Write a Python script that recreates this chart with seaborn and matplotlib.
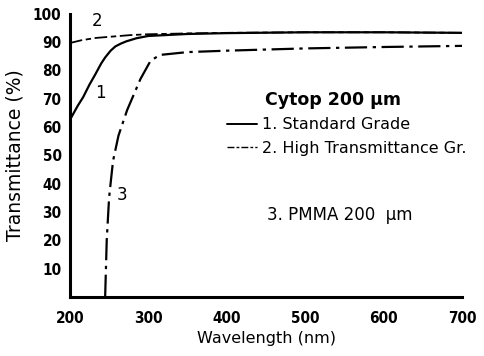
import pandas as pd
import matplotlib
matplotlib.use("Agg")
import matplotlib.pyplot as plt
from matplotlib.lines import Line2D
import seaborn as sns

# transmittance curves
wl_std = [200, 210, 217, 225, 232, 240, 245, 252, 258, 265, 272, 285, 300, 350, 400, 500, 600, 700]
t_std = [62.5, 67.5, 70.6, 75, 78.4, 82.5, 84.6, 87, 88.5, 89.5, 90.3, 91.4, 92.2, 92.9, 93.2, 93.5, 93.5, 93.3]

wl_high = [200, 215, 233, 255, 277, 300, 350, 400, 500, 600, 700]
t_high = [89.7, 90.7, 91.5, 92, 92.5, 92.8, 93.1, 93.3, 93.5, 93.5, 93.3]

wl_pmma = [245, 247, 250, 255, 262, 273, 290, 303, 315, 350, 400, 500, 600, 700]
t_pmma = [0, 20, 35, 48, 57, 66, 77, 83.5, 85.5, 86.5, 87, 87.8, 88.3, 88.7]

x_ticks = [200, 300, 400, 500, 600, 700]
y_ticks = [10, 20, 30, 40, 50, 60, 70, 80, 90, 100]

sns.set_style("white")
plt.rcParams['font.family'] = ['DejaVu Sans']
for k in ['text.color', 'axes.labelcolor', 'xtick.color', 'ytick.color']:
    plt.rcParams[k] = 'black'

fig = plt.figure(figsize=(4.85, 3.56), dpi=100)
ax = fig.add_axes([0.144, 0.166, 0.809, 0.795])

d1 = pd.DataFrame({'wl': wl_std, 't': t_std})
d2 = pd.DataFrame({'wl': wl_high, 't': t_high})
d3 = pd.DataFrame({'wl': wl_pmma, 't': t_pmma})

sns.lineplot(data=d2, x='wl', y='t', ax=ax, color='black', lw=1.3)
ax.lines[-1].set_dashes((7, 2, 3, 2))
sns.lineplot(data=d1, x='wl', y='t', ax=ax, color='black', lw=1.6)
sns.lineplot(data=d3, x='wl', y='t', ax=ax, color='black', lw=1.6)
ax.lines[-1].set_dashes((10, 2.5, 1.5, 2.5))

ax.set_xlim(200, 700)
ax.set_ylim(0, 100)
ax.set_xticks(x_ticks)
ax.set_yticks(y_ticks)
tick_font = dict(family='DejaVu Sans', stretch='condensed', weight='bold', size=11)
ax.set_xticklabels([str(v) for v in x_ticks], **tick_font)
ax.set_yticklabels([str(v) for v in y_ticks], **tick_font)
ax.tick_params(direction='in', length=5, width=2)
ax.tick_params(axis='x', pad=10)
ax.tick_params(axis='y', pad=6)

sns.despine(ax=ax)
for s in ['left', 'bottom']:
    ax.spines[s].set_linewidth(2.2)
    ax.spines[s].set_color('black')

ax.set_xlabel('Wavelength (nm)', fontsize=11.5, labelpad=4)
ax.set_ylabel('Transmittance (%)', fontsize=13.5, labelpad=6)

# curve numbers
ax.text(0.055, 0.975, '2', transform=ax.transAxes, fontsize=12, ha='left', va='center')
ax.text(0.065, 0.72, '1', transform=ax.transAxes, fontsize=12, ha='left', va='center')
ax.text(0.12, 0.36, '3', transform=ax.transAxes, fontsize=12, ha='left', va='center')

# legend block
ax.text(0.497, 0.696, 'Cytop 200 \u03bcm', transform=ax.transAxes, fontsize=12.5,
        fontweight='bold', ha='left', va='center')
handles = [Line2D([], [], color='black', lw=1.4),
           Line2D([], [], color='black', lw=1.0, dashes=(5, 1.5, 2, 1.5))]
labels = ['1. Standard Grade', '2. High Transmittance Gr.']
ax.legend(handles, labels, loc='upper left', bbox_to_anchor=(0.40, 0.635), frameon=False,
          fontsize=11.5, handlelength=1.9, handletextpad=0.3, labelspacing=0.55,
          borderaxespad=0, borderpad=0)
ax.text(0.503, 0.29, '3. PMMA 200  \u03bcm', transform=ax.transAxes, fontsize=12,
        ha='left', va='center')

fig.savefig('out.png', dpi=100)
